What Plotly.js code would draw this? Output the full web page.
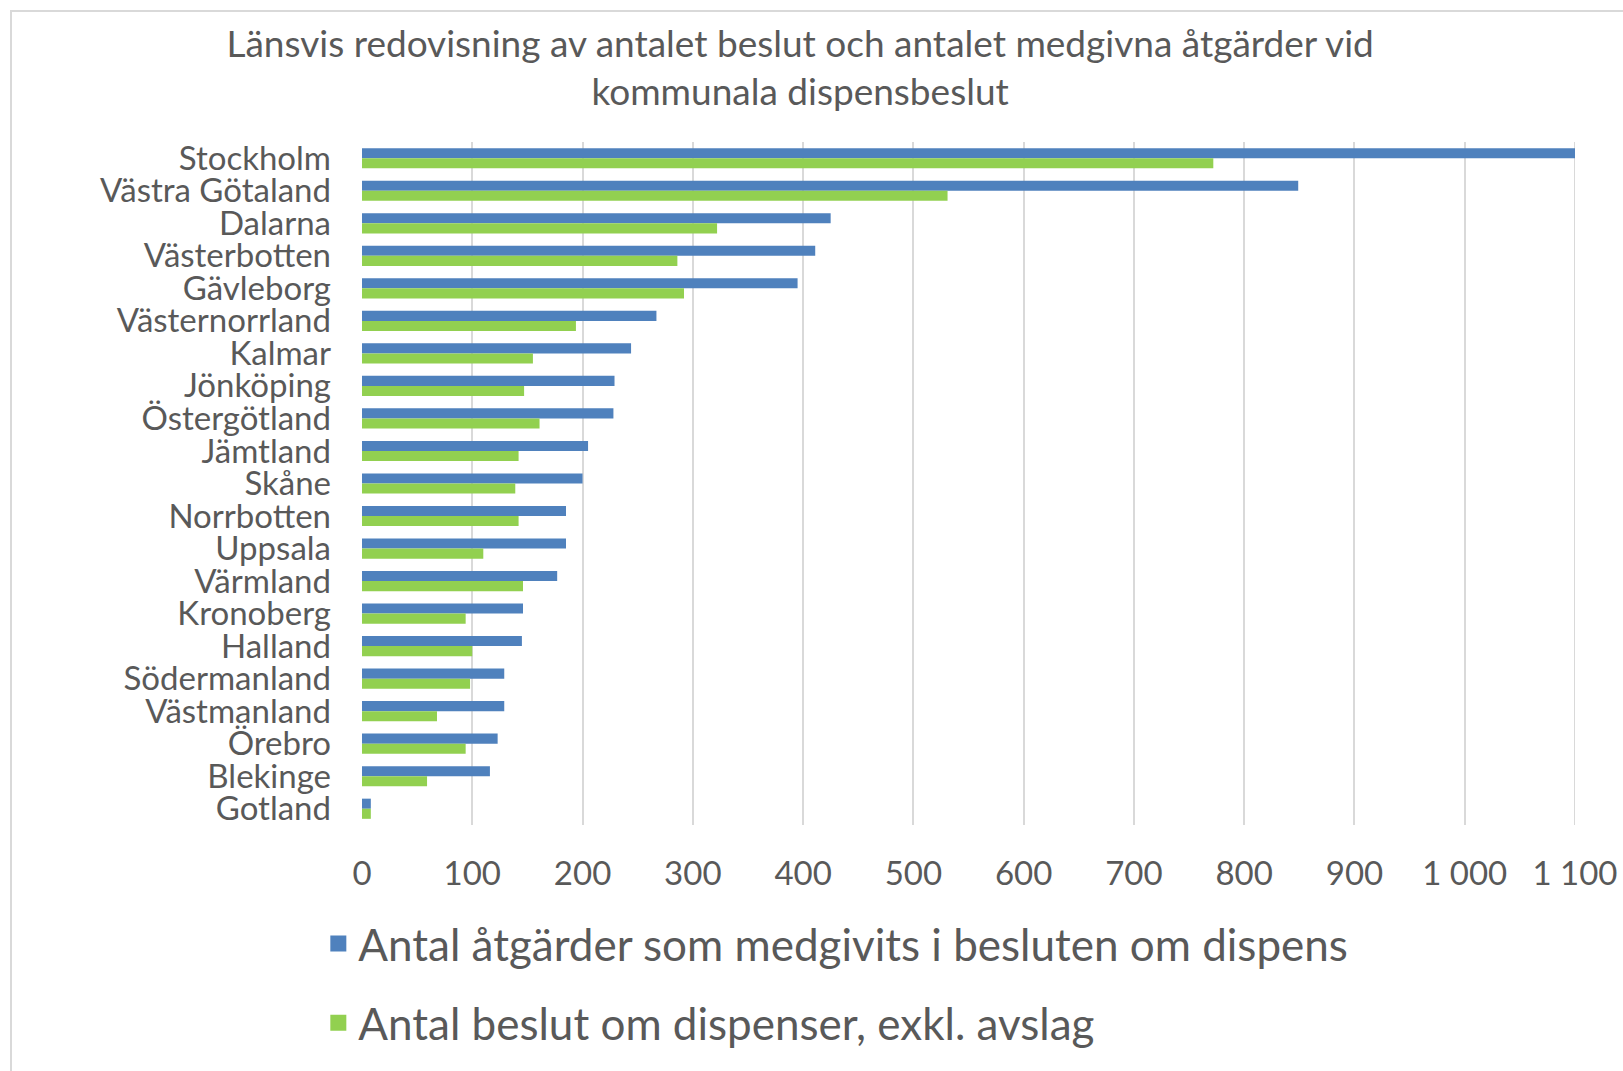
<!DOCTYPE html>
<html>
<head>
<meta charset="utf-8">
<script src="https://cdn.plot.ly/plotly-3.0.1.min.js"></script>
<style>
html,body{margin:0;padding:0;background:#fff;}
#frame{position:absolute;left:10px;top:10px;width:1700px;height:1100px;border-left:2px solid #d9d9d9;border-top:2px solid #d9d9d9;}
#chart{position:absolute;left:0;top:0;width:1623px;height:1071px;}
</style>
</head>
<body>
<div id="frame"></div>
<div id="chart"></div>
<script>
const regions = ["Stockholm","Västra Götaland","Dalarna","Västerbotten","Gävleborg","Västernorrland","Kalmar","Jönköping","Östergötland","Jämtland","Skåne","Norrbotten","Uppsala","Värmland","Kronoberg","Halland","Södermanland","Västmanland","Örebro","Blekinge","Gotland"];
const atgarder = [1100,849,425,411,395,267,244,229,228,205,200,185,185,177,146,145,129,129,123,116,8];
const beslut = [772,531,322,286,292,194,155,147,161,142,139,142,110,146,94,100,98,68,94,59,8];
const seriesNames = ["Antal åtgärder som medgivits i besluten om dispens","Antal beslut om dispenser, exkl. avslag"];
const seriesColors = ["#4F81BD","#92D050"];
const xTicks = [0,100,200,300,400,500,600,700,800,900,1000,1100];
const xTickText = ["0","100","200","300","400","500","600","700","800","900","1 000","1 100"];

const txt = "#595959";
const fnt = "Lato, 'Open Sans', sans-serif";

const data = [
  {type:"bar", orientation:"h", y:regions, x:atgarder, name:seriesNames[0], legendgroup:"a", showlegend:false,
   marker:{color:seriesColors[0]}, hoverinfo:"x+y"},
  {type:"bar", orientation:"h", y:regions, x:beslut, name:seriesNames[1], legendgroup:"b", showlegend:false,
   marker:{color:seriesColors[1]}, hoverinfo:"x+y"},
  // legend keys (no data points drawn)
  {type:"scatter", mode:"markers", x:[null], y:[null], name:seriesNames[0], legendgroup:"a", showlegend:true,
   marker:{symbol:"square", size:16, color:seriesColors[0]}},
  {type:"scatter", mode:"markers", x:[null], y:[null], name:seriesNames[1], legendgroup:"b", showlegend:true,
   marker:{symbol:"square", size:16, color:seriesColors[1]}}
];

const layout = {
  width:1623, height:1071,
  paper_bgcolor:"rgba(0,0,0,0)", plot_bgcolor:"rgba(0,0,0,0)",
  margin:{l:362, r:48, t:142, b:246},
  font:{family:fnt, color:txt, size:33},
  title:{text:"Länsvis redovisning av antalet beslut och antalet medgivna åtgärder vid<br>kommunala dispensbeslut",
         x:0.493, xanchor:"center", y:0.947, yanchor:"top", yref:"container",
         font:{family:fnt, size:37, color:txt}},
  barmode:"group", bargap:0.38, bargroupgap:0,
  xaxis:{range:[0,1100], tickmode:"array", tickvals:xTicks, ticktext:xTickText, showgrid:true, gridcolor:"#d9d9d9", gridwidth:2,
         zeroline:false, showline:false, ticks:"", ticklabelstandoff:26, tickfont:{size:33, color:txt}, fixedrange:true},
  yaxis:{type:"category", autorange:"reversed", tickmode:"array", tickvals:regions, ticktext:regions,
         showgrid:false, zeroline:false, showline:false, ticks:"",
         ticklabelstandoff:30, tickfont:{size:33, color:txt}, fixedrange:true},
  showlegend:true,
  legend:{orientation:"v", traceorder:"grouped", x:-0.036, xanchor:"left", y:-0.122, yanchor:"top",
          font:{size:44, color:txt}, tracegroupgap:19, itemwidth:30, bgcolor:"rgba(0,0,0,0)"},
  shapes:[{type:"line", xref:"x", yref:"paper", x0:1100, x1:1100, y0:0, y1:1, line:{color:"#d9d9d9", width:2}, layer:"below"}]
};

Plotly.newPlot("chart", data, layout, {displayModeBar:false, staticPlot:true});
</script>
</body>
</html>
